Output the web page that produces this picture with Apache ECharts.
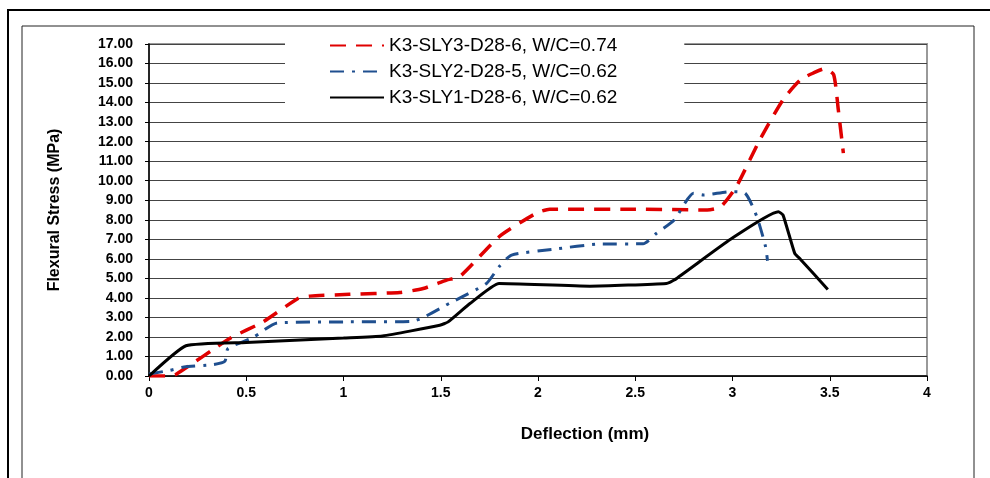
<!DOCTYPE html>
<html><head><meta charset="utf-8">
<script src="https://cdn.jsdelivr.net/npm/echarts@6/dist/echarts.min.js"></script>
<style>html,body{margin:0;padding:0;background:#fff}#c{width:990px;height:478px}</style>
</head><body><div id="c"></div>
<script>
const seriesNames = ['K3-SLY3-D28-6, W/C=0.74', 'K3-SLY2-D28-5, W/C=0.62', 'K3-SLY1-D28-6, W/C=0.62'];
const sly3X = [0, 0.1, 0.14, 0.415, 0.586, 0.766, 0.827, 1.03, 1.29, 1.41, 1.53, 1.60, 1.80, 1.99, 2.06, 2.5, 2.87, 2.94, 3.02, 3.14, 3.26, 3.35, 3.415, 3.475, 3.52, 3.544, 3.57];
const sly3Y = [0, 0, 0.09, 1.92, 2.77, 3.97, 4.09, 4.18, 4.28, 4.48, 4.91, 5.11, 7.13, 8.33, 8.54, 8.54, 8.5, 8.67, 9.70, 12.09, 14.15, 15.17, 15.51, 15.74, 15.43, 13.63, 11.41];
const sly2X = [0, 0.107, 0.18, 0.33, 0.39, 0.406, 0.535, 0.66, 1.0, 1.35, 1.55, 1.735, 1.80, 1.864, 2.08, 2.32, 2.54, 2.61, 2.70, 2.80, 2.85, 2.99, 3.065, 3.125, 3.17, 3.18];
const sly2Y = [0.1, 0.29, 0.46, 0.58, 0.75, 1.4, 1.97, 2.72, 2.77, 2.8, 3.75, 4.74, 5.6, 6.19, 6.49, 6.76, 6.77, 7.31, 7.99, 9.36, 9.27, 9.44, 9.36, 8.16, 6.62, 5.90];
const sly1X = [0, 0.19, 0.5, 1.0, 1.2, 1.495, 1.538, 1.65, 1.80, 2.267, 2.66, 2.70, 2.99, 3.236, 3.26, 3.32, 3.35, 3.49];
const sly1Y = [0, 1.55, 1.72, 1.95, 2.05, 2.6, 2.77, 3.71, 4.74, 4.60, 4.74, 4.91, 7.0, 8.41, 8.24, 6.28, 5.97, 4.43];
const xTicks = [0, 4, 0.5];
const yTicks = [0, 17, 1];

const pairs = (xs, ys) => xs.map((x, i) => [x, ys[i]]);
const chart = echarts.init(document.getElementById('c'), null, {renderer: 'canvas'});
const bold = {fontFamily: 'Arial, Liberation Sans', fontWeight: 'bold', color: '#000'};
chart.setOption({
  animation: false,
  backgroundColor: '#fff',
  graphic: [
    {type: 'rect', shape: {x: 8, y: 10, width: 990, height: 480}, style: {fill: 'none', stroke: '#000', lineWidth: 2}, z: 100},
    {type: 'rect', shape: {x: 22, y: 26, width: 952, height: 470}, style: {fill: 'none', stroke: '#222', lineWidth: 1}, z: 100}
  ],
  grid: {left: 149, right: 63, top: 44, bottom: 102, show: true, borderColor: '#999', borderWidth: 2},
  legend: {
    left: 285, top: 28, orient: 'vertical', itemWidth: 54, itemHeight: 14, itemGap: 7,
    padding: [8, 67, 8, 44], backgroundColor: '#fff', z: 10,
    itemStyle: {opacity: 0},
    textStyle: {fontFamily: 'Arial, Liberation Sans', fontSize: 19, color: '#000'},
    data: seriesNames
  },
  xAxis: {
    type: 'value', min: xTicks[0], max: xTicks[1], interval: xTicks[2],
    name: 'Deflection (mm)', nameLocation: 'middle', nameGap: 50,
    nameTextStyle: Object.assign({fontSize: 17, padding: [0, 0, 0, 94]}, bold),
    axisLine: {show: true, lineStyle: {color: '#000', width: 1.5}},
    axisTick: {show: true, length: 5, lineStyle: {color: '#000'}},
    axisLabel: Object.assign({fontSize: 14, margin: 10}, bold),
    splitLine: {show: false}
  },
  yAxis: {
    type: 'value', min: yTicks[0], max: yTicks[1], interval: yTicks[2],
    name: 'Flexural Stress (MPa)', nameLocation: 'middle', nameGap: 86,
    nameTextStyle: Object.assign({fontSize: 16, padding: [0, 0, 0, 0]}, bold),
    axisLine: {show: true, lineStyle: {color: '#000', width: 1.5}},
    axisTick: {show: true, length: 4, lineStyle: {color: '#000'}},
    axisLabel: Object.assign({fontSize: 14, margin: 16, formatter: v => v.toFixed(2)}, bold),
    splitLine: {show: true, lineStyle: {color: '#444', width: 1}}
  },
  series: [
    {name: seriesNames[0], type: 'line', data: pairs(sly3X, sly3Y), symbol: 'none', smooth: 0.2,
     lineStyle: {color: '#e00000', width: 3.5, type: [16, 10]}, itemStyle: {color: '#e00000'}, z: 3},
    {name: seriesNames[1], type: 'line', data: pairs(sly2X, sly2Y), symbol: 'none', smooth: 0.2,
     lineStyle: {color: '#1f4f8f', width: 3, type: [14, 8, 3, 8]}, itemStyle: {color: '#1f4f8f'}, z: 3},
    {name: seriesNames[2], type: 'line', data: pairs(sly1X, sly1Y), symbol: 'none', smooth: 0.15,
     lineStyle: {color: '#000', width: 3}, itemStyle: {color: '#000'}, z: 3}
  ]
});
</script></body></html>
